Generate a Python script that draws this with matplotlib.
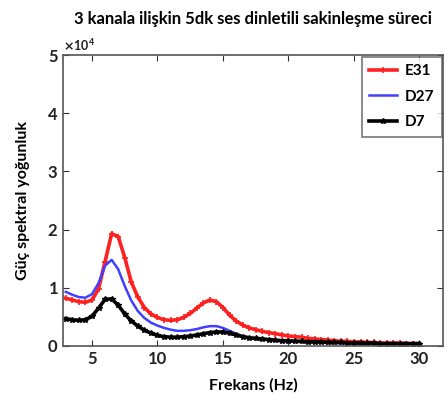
import matplotlib
matplotlib.use('Agg')
import matplotlib.pyplot as plt
import numpy as np

plt.rcParams['font.family'] = ['Lato', 'DejaVu Sans']
plt.rcParams['font.weight'] = 'bold'

# frekans ekseni (Hz), 0.5 Hz aralik
freq = np.arange(3, 30.01, 0.5)

# guc spektral yogunluk degerleri (x1e4)
e31 = [0.82, 0.79, 0.76, 0.75, 0.79, 0.98, 1.45, 1.93, 1.88, 1.52, 1.10, 0.84,
       0.66, 0.55, 0.49, 0.45, 0.44, 0.45, 0.49, 0.56, 0.65, 0.74, 0.79, 0.76,
       0.66, 0.53, 0.43, 0.36, 0.31, 0.28, 0.25, 0.23, 0.21, 0.19, 0.17, 0.16,
       0.15, 0.13, 0.12, 0.11, 0.10, 0.09, 0.08, 0.08, 0.07, 0.07, 0.06, 0.06,
       0.05, 0.05, 0.05, 0.05, 0.04, 0.04, 0.04]
d27 = [0.93, 0.88, 0.84, 0.83, 0.89, 1.08, 1.38, 1.48, 1.32, 1.03, 0.78, 0.60,
       0.48, 0.40, 0.35, 0.31, 0.28, 0.26, 0.26, 0.27, 0.29, 0.32, 0.34, 0.34,
       0.31, 0.26, 0.21, 0.17, 0.14, 0.12, 0.11, 0.10, 0.09, 0.08, 0.08, 0.07,
       0.07, 0.06, 0.06, 0.06, 0.05, 0.05, 0.05, 0.05, 0.04, 0.04, 0.04, 0.04,
       0.04, 0.04, 0.03, 0.03, 0.03, 0.03, 0.03]
d7 = [0.47, 0.45, 0.44, 0.45, 0.51, 0.65, 0.80, 0.81, 0.70, 0.55, 0.43, 0.34,
      0.27, 0.22, 0.18, 0.16, 0.15, 0.15, 0.16, 0.17, 0.19, 0.21, 0.23, 0.24,
      0.24, 0.22, 0.19, 0.16, 0.14, 0.13, 0.12, 0.11, 0.10, 0.09, 0.09, 0.08,
      0.08, 0.07, 0.07, 0.07, 0.06, 0.06, 0.06, 0.05, 0.05, 0.05, 0.05, 0.05,
      0.04, 0.04, 0.04, 0.04, 0.04, 0.04, 0.04]

fig = plt.figure(figsize=(4.48, 3.94), dpi=100)
ax = fig.add_axes([0.141, 0.122, 0.848, 0.738])

ax.plot(freq, np.array(e31) * 1e4, color='#ff2020', lw=2.6, marker='+',
        ms=4, mew=1.2, label='E31')
ax.plot(freq, np.array(d27) * 1e4, color='#4040ff', lw=1.8, label='D27')
ax.plot(freq, np.array(d7) * 1e4, color='black', lw=2.6, marker='*',
        ms=4, label='D7')

ax.set_xlim(2.8, 31.8)
ax.set_ylim(0, 5e4)
ax.set_xticks([5, 10, 15, 20, 25, 30])
ax.set_yticks([0, 1e4, 2e4, 3e4, 4e4, 5e4])
ax.ticklabel_format(axis='y', style='sci', scilimits=(0, 0), useMathText=True)
ax.yaxis.get_offset_text().set_fontsize(9)
ax.tick_params(direction='in', top=True, right=True, labelsize=12,
               length=4, colors='#333333', labelcolor='#222222')
for sp in ax.spines.values():
    sp.set_color('#555555')
    sp.set_linewidth(1.2)

ax.set_xlabel('Frekans (Hz)', fontsize=11.5, fontweight='bold', labelpad=8)
ax.set_ylabel('Güç spektral yoğunluk', fontsize=11.5, fontweight='bold',
              labelpad=12)
fig.text(0.565, 0.953, '3 kanala ilişkin 5dk ses dinletili sakinleşme süreci',
         ha='center', va='center', fontsize=12, fontweight='bold')

leg = ax.legend(loc='upper right', fontsize=11, fancybox=False,
                edgecolor='#555555', handlelength=1.8, handletextpad=0.5,
                borderpad=0.5, labelspacing=0.75, borderaxespad=0.1)
leg.get_frame().set_linewidth(1.2)

fig.savefig('out.png', dpi=100)
